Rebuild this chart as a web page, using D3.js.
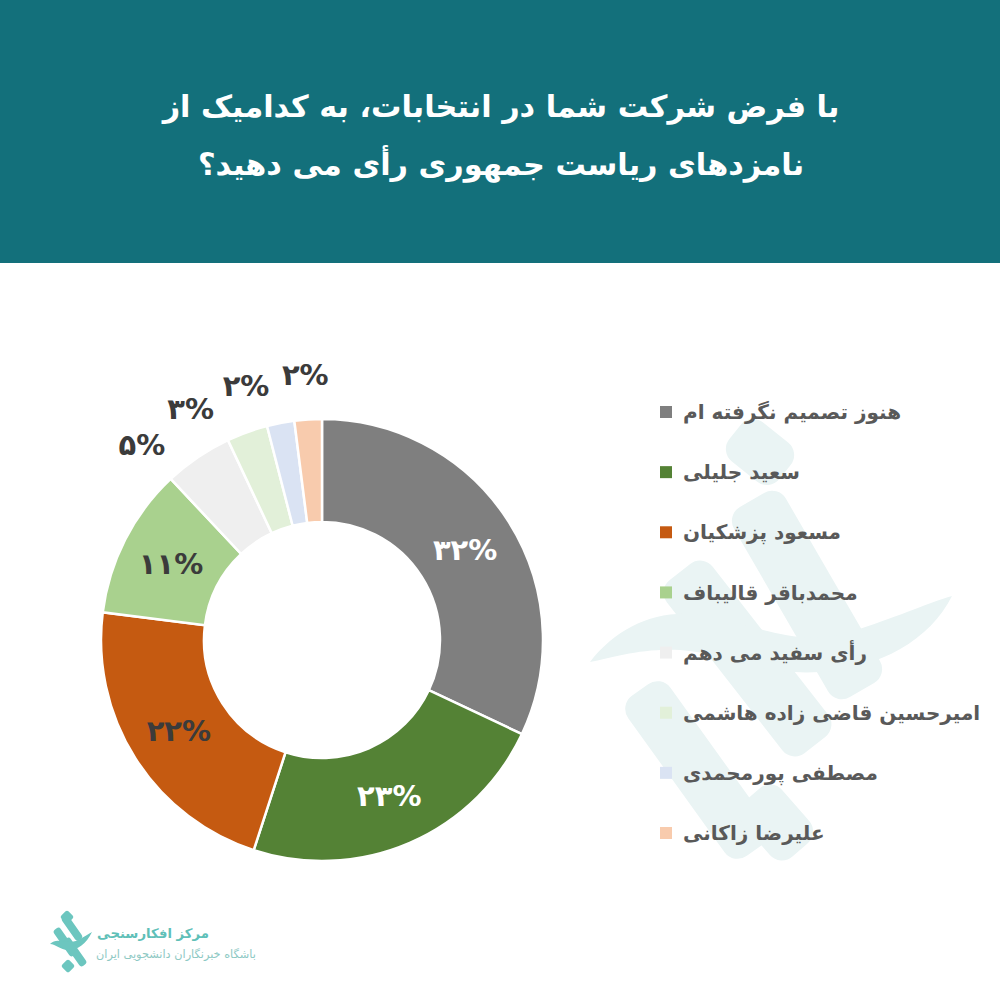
<!DOCTYPE html>
<html><head><meta charset="utf-8">
<script src="https://cdn.jsdelivr.net/npm/d3@7/dist/d3.min.js"></script>
<style>
html,body{margin:0;padding:0;background:#fff;}
svg{display:block;}
text{font-family:"DejaVu Sans",sans-serif;}
</style></head>
<body>
<svg id="chart" width="1000" height="1000"></svg>
<script>
// ---- data ----
const titleLines = ["با فرض شرکت شما در انتخابات، به کدامیک از", "نامزدهای ریاست جمهوری رأی می دهید؟"];
const categories = ["هنوز تصمیم نگرفته ام","سعید جلیلی","مسعود پزشکیان","محمدباقر قالیباف","رأی سفید می دهم","امیرحسین قاضی زاده هاشمی","مصطفی پورمحمدی","علیرضا زاکانی"];
const values = [32, 23, 22, 11, 5, 3, 2, 2];
const valueLabels = ["۳۲%","۲۳%","۲۲%","۱۱%","۵%","۳%","۲%","۲%"];
const brandName = "مرکز افکارسنجی";
const brandSub = "باشگاه خبرنگاران دانشجویی ایران";

// ---- styles ----
const sliceColors = ["#7f7f7f","#548235","#c55a11","#a9d18e","#efefef","#e2f0d9","#dae3f3","#f8cbad"];
const labelInk = ["#ffffff","#ffffff","#3b3b3b","#3b3b3b","#3b3b3b","#3b3b3b","#3b3b3b","#3b3b3b"];

const svg = d3.select("#chart");

// header
svg.append("rect").attr("x",0).attr("y",0).attr("width",1000).attr("height",263).attr("fill","#13707b");
const t1 = svg.append("text").attr("x",501).attr("y",117).attr("text-anchor","middle")
  .style("direction","rtl").attr("fill","#fff").attr("font-weight","bold").attr("font-size",38).text(titleLines[0]);
const w1 = t1.node().getComputedTextLength();
const fs = Math.min(44, 38*677/w1);
t1.attr("font-size",fs);
svg.append("text").attr("x",501).attr("y",175).attr("text-anchor","middle")
  .style("direction","rtl").attr("fill","#fff").attr("font-weight","bold").attr("font-size",fs).text(titleLines[1]);

// watermark
const wm = svg.append("g").attr("fill","#eaf4f4");
function bar(x1,y1,x2,y2,w){
  const ang = Math.atan2(y2-y1,x2-x1)*180/Math.PI;
  const len = Math.hypot(x2-x1,y2-y1);
  wm.append("rect").attr("x",-len/2).attr("y",-w/2).attr("width",len).attr("height",w).attr("rx",16)
    .attr("transform",`translate(${(x1+x2)/2},${(y1+y2)/2}) rotate(${ang})`);
}
bar(735,432,785,472,50);
bar(752,500,862,690,60);
bar(680,572,815,745,58);
bar(640,690,755,850,52);
bar(752,795,800,850,52);
wm.append("path").attr("d","M590,662 C615,630 650,612 690,614 C745,618 790,650 850,632 C895,618 925,604 952,596 C930,640 880,668 820,672 C760,676 720,652 680,650 C640,648 612,658 590,662 Z");

// donut
const cx = 322, cy = 640, rOut = 221, rIn = 118;
const g = svg.append("g").attr("transform",`translate(${cx},${cy})`);
const pie = d3.pie().value(d=>d).sort(null);
const arcs = pie(values);
const arc = d3.arc().innerRadius(rIn).outerRadius(rOut);
g.selectAll("path.slice").data(arcs).enter().append("path").attr("class","slice")
  .attr("d",arc).attr("fill",(d,i)=>sliceColors[i]).attr("stroke","#fff").attr("stroke-width",2.5);

// inside labels
g.selectAll("text.in").data(arcs.filter(d=>d.data>=10)).enter().append("text").attr("class","in")
  .attr("transform",d=>`translate(${arc.centroid(d)})`).attr("text-anchor","middle").attr("dy","0.36em")
  .attr("font-size",29).attr("font-weight","bold").attr("fill",d=>labelInk[d.index]).text(d=>valueLabels[d.index]);

// outside labels with spreading
const outs = arcs.filter(d=>d.data<10).map(d=>({d, a:(d.startAngle+d.endAngle)/2}));
const gap = 13*Math.PI/180;
for(let k=outs.length-2;k>=0;k--){ outs[k].a = Math.min(outs[k].a, outs[k+1].a-gap); }
const rLab = 266;
outs.forEach(o=>{
  g.append("text").attr("x",rLab*Math.sin(o.a)).attr("y",-rLab*Math.cos(o.a)).attr("text-anchor","middle").attr("dy","0.36em")
   .attr("font-size",29).attr("font-weight","bold").attr("fill",labelInk[o.d.index]).text(valueLabels[o.d.index]);
});

// legend
const ly = d3.scalePoint().domain(d3.range(categories.length)).range([412,833]);
const lg = svg.append("g");
categories.forEach((c,i)=>{
  lg.append("rect").attr("x",660).attr("y",ly(i)-6).attr("width",12).attr("height",12).attr("fill",sliceColors[i]);
  lg.append("text").attr("x",683).attr("y",ly(i)).attr("dy","0.36em").attr("font-size",19).attr("font-weight","bold")
    .attr("fill","#595959").text(c);
});
const firstW = lg.selectAll("text").nodes()[0].getComputedTextLength();
const lfs = Math.min(22, 1.07*19*204/firstW);
lg.selectAll("text").attr("font-size",lfs);

// brand logo
const logo = svg.append("g").attr("fill","#6cc6bf");
logo.append("rect").attr("x",-14).attr("y",-4).attr("width",28).attr("height",8).attr("rx",3).attr("transform","translate(72,928) rotate(55)");
logo.append("rect").attr("x",-16).attr("y",-4).attr("width",32).attr("height",8).attr("rx",3).attr("transform","translate(65,942) rotate(55)");
logo.append("rect").attr("x",-16).attr("y",-4).attr("width",32).attr("height",8).attr("rx",3).attr("transform","translate(75,952) rotate(55)");
logo.append("rect").attr("x",-5).attr("y",-5).attr("width",10).attr("height",10).attr("rx",2).attr("transform","translate(67,917) rotate(45)");
logo.append("rect").attr("x",-5).attr("y",-5).attr("width",10).attr("height",10).attr("rx",2).attr("transform","translate(68,966) rotate(45)");
logo.append("path").attr("d","M50,944 C58,936 66,946 78,940 C84,937 88,934 92,932 C86,944 78,950 68,950 C60,950 56,944 50,944 Z");
const b1 = svg.append("text").attr("x",97).attr("y",938).attr("font-size",17).attr("font-weight","bold").attr("fill","#5fc0b8").text(brandName);
b1.attr("font-size",17*112/b1.node().getComputedTextLength());
const b2 = svg.append("text").attr("x",96).attr("y",958).attr("font-size",12).attr("fill","#8ec9c4").text(brandSub);
b2.attr("font-size",12*160/b2.node().getComputedTextLength());
</script>
</body></html>
